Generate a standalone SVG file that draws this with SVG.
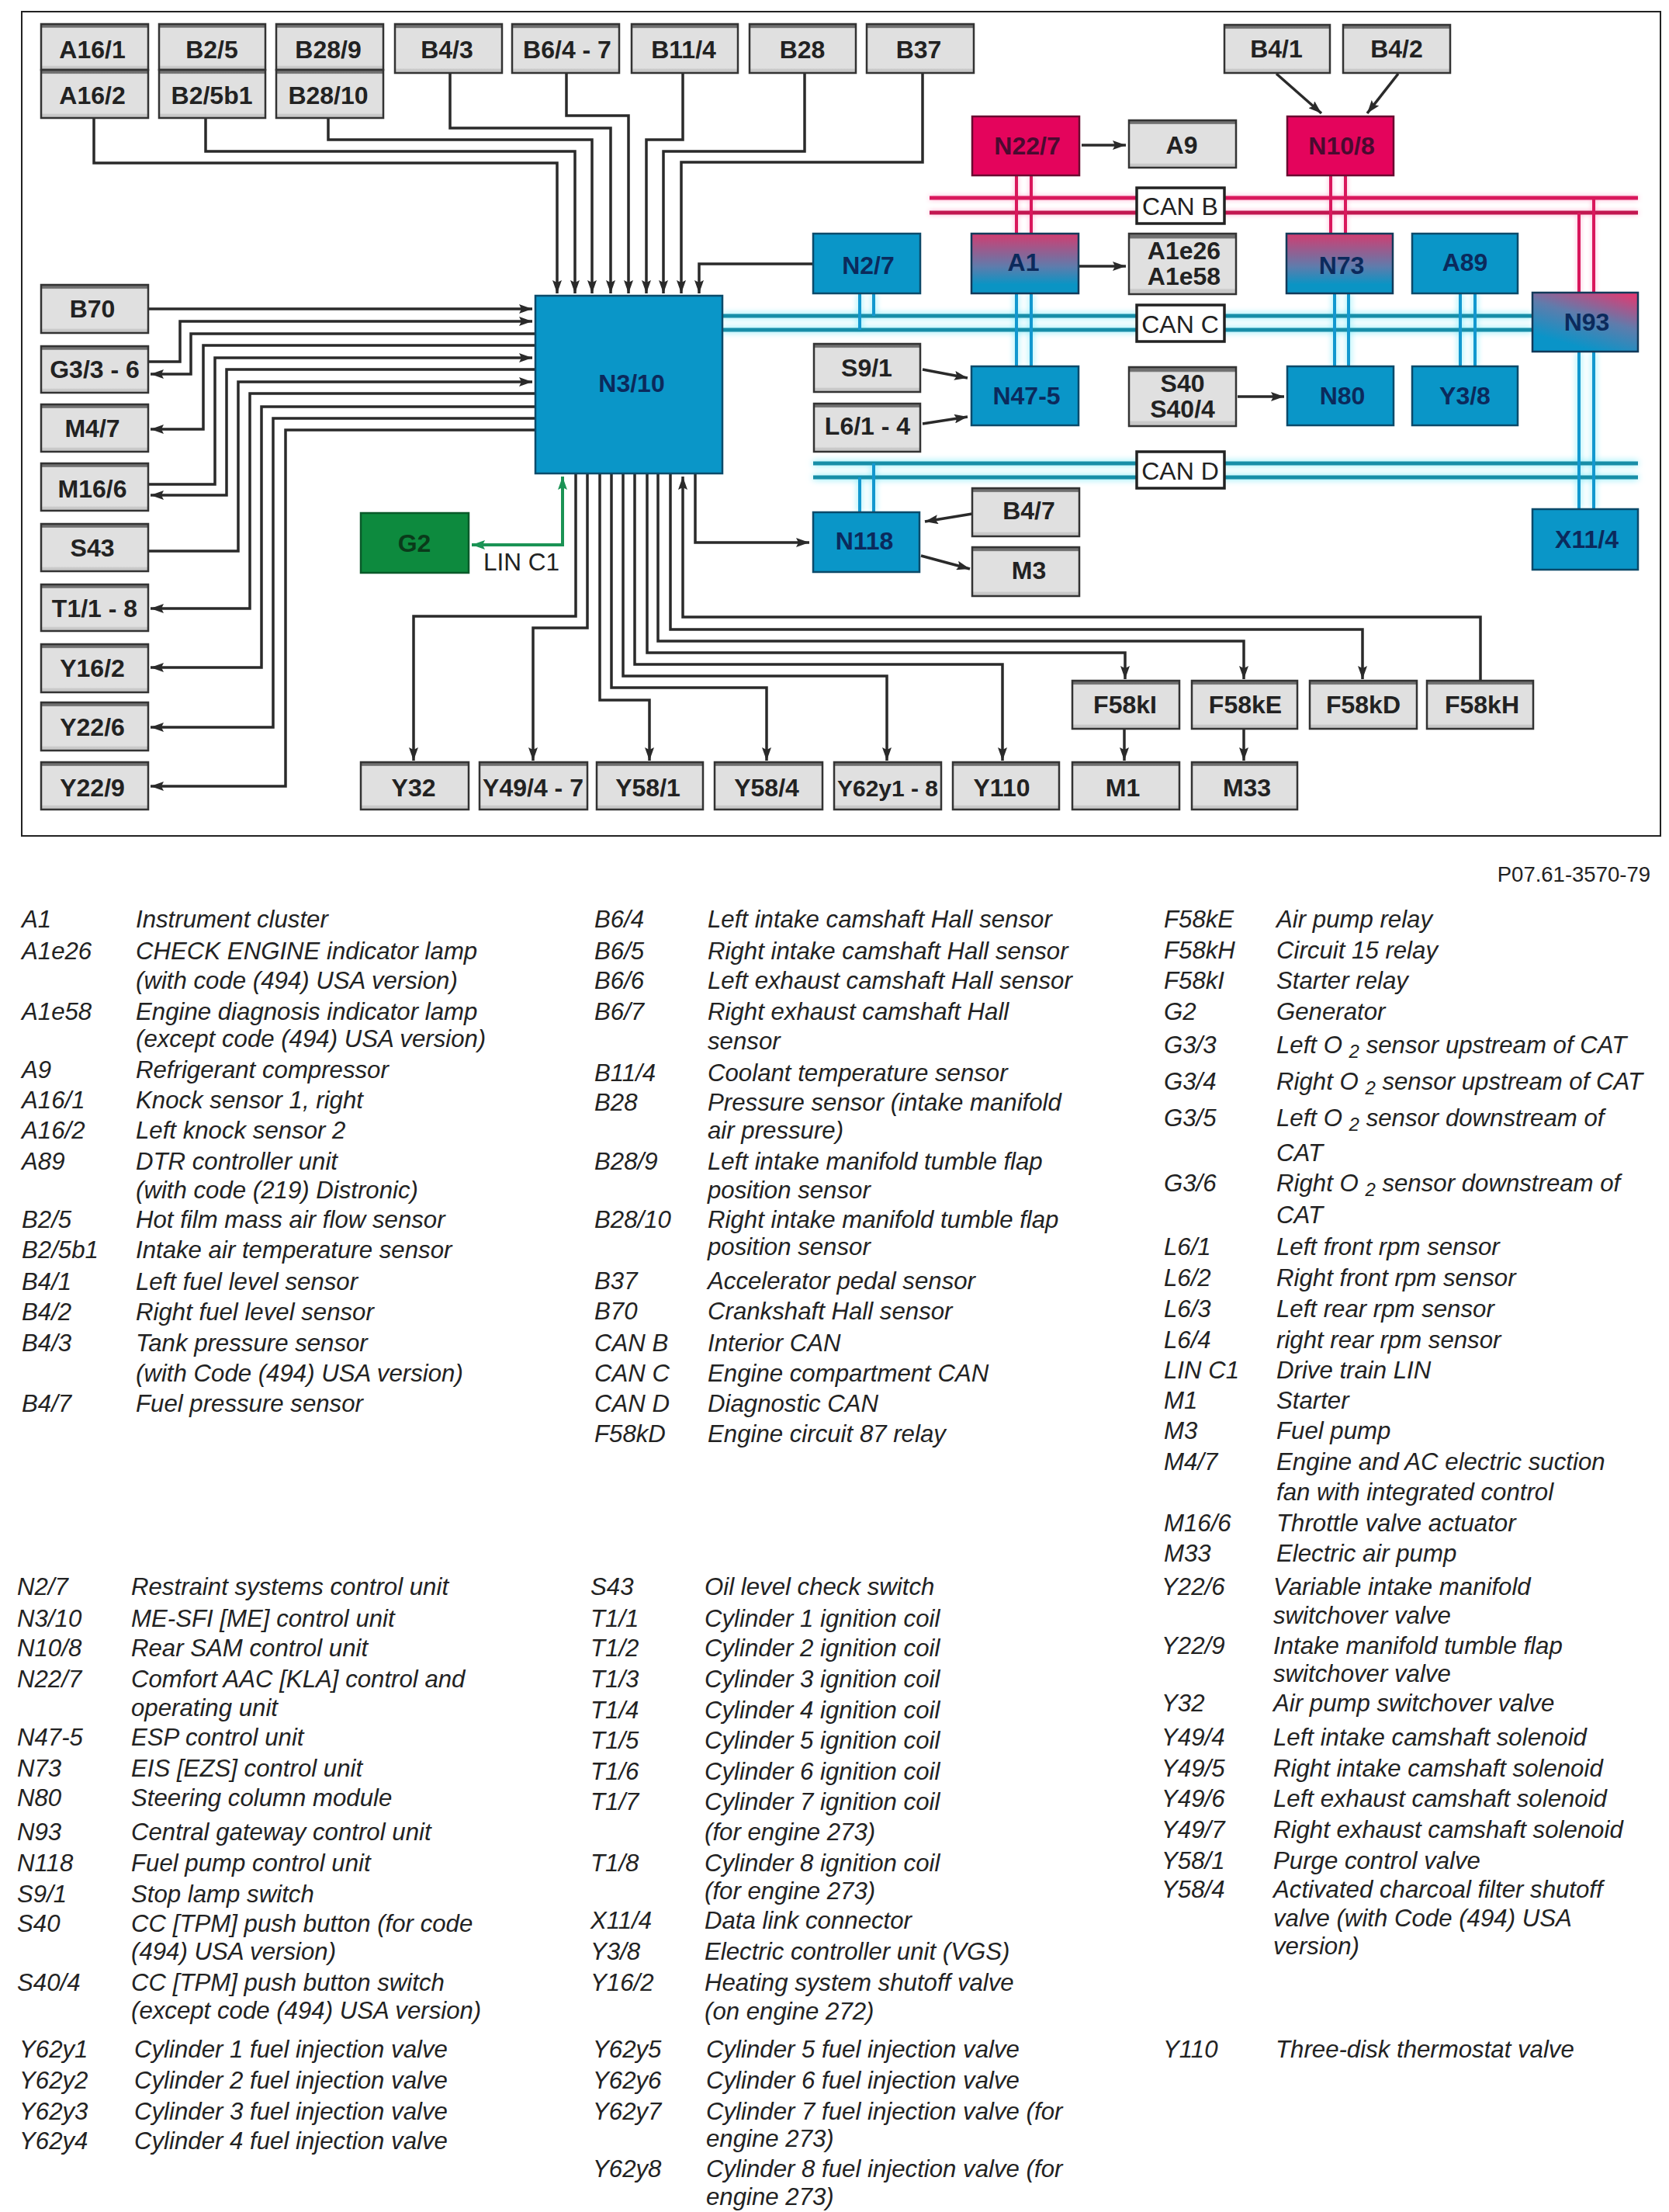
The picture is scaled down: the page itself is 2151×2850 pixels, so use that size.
<svg xmlns="http://www.w3.org/2000/svg" width="2151" height="2850" viewBox="0 0 2151 2850">
<style>
text{font-family:"Liberation Sans",Arial,sans-serif}
.g{fill:url(#gr);stroke:#333;stroke-width:2.5}
.b{fill:#0a96c8;stroke:#0b4a6a;stroke-width:2.5}
.p{fill:#e4045c;stroke:#6a0a30;stroke-width:2.5}
.m{fill:url(#mix);stroke:#123a5a;stroke-width:2.5}
.c{fill:#fff;stroke:#222;stroke-width:3.5}
.t{font-size:32px;font-weight:bold;text-anchor:middle;fill:#222}
.tb{font-size:32px;font-weight:bold;text-anchor:middle;fill:#0b2a5c}
.tp{font-size:32px;font-weight:bold;text-anchor:middle;fill:#4a0a30}
.tc{font-size:32px;text-anchor:middle;fill:#222}
.k path,.k line{fill:none;stroke:#2a2a2a;stroke-width:3.5}
.k .ar{marker-end:url(#a)}
.lin{fill:none;stroke:#1b9355;stroke-width:4;marker-start:url(#ag);marker-end:url(#ag)}
.bp line{stroke:#d9175c;stroke-width:5}
.bpv line{stroke:#d9175c;stroke-width:4}
.bb line{stroke:#178ea8;stroke-width:5}
.bbv line{stroke:#1298cf;stroke-width:4}
.busp{filter:drop-shadow(0 0 3px #ffb0d0)}
.busb{filter:drop-shadow(0 0 4px #70e8f8)}
.leg text{font-size:31.2px;font-style:italic;fill:#222}
</style>
<defs>
<linearGradient id="gr" x1="0" y1="0" x2="0" y2="1"><stop offset="0" stop-color="#707070"/><stop offset=".07" stop-color="#707070"/><stop offset=".09" stop-color="#e0e0e0"/><stop offset=".9" stop-color="#e0e0e0"/><stop offset=".93" stop-color="#c8c8c8"/><stop offset="1" stop-color="#c8c8c8"/></linearGradient>
<linearGradient id="mix" x1="0" y1="0" x2="0" y2="1"><stop offset="0" stop-color="#d23c70"/><stop offset=".55" stop-color="#5f7cac"/><stop offset=".85" stop-color="#0a94c4"/><stop offset="1" stop-color="#0a94c4"/></linearGradient>
<linearGradient id="mix2" x1=".85" y1="0" x2=".35" y2="1"><stop offset="0" stop-color="#dc3c74"/><stop offset=".45" stop-color="#5f7cac"/><stop offset=".9" stop-color="#0a94c8"/></linearGradient>
<marker id="a" markerUnits="userSpaceOnUse" markerWidth="18" markerHeight="12" refX="17" refY="6" orient="auto-start-reverse"><path d="M0 0L17 6L0 12L3 6z" fill="#2a2a2a"/></marker>
<marker id="ag" markerUnits="userSpaceOnUse" markerWidth="18" markerHeight="12" refX="17" refY="6" orient="auto-start-reverse"><path d="M0 0L17 6L0 12L3 6z" fill="#1b9355"/></marker>
</defs>
<rect x="0" y="0" width="2151" height="2850" fill="#fff"/>
<rect id="frame" x="28" y="15" width="2112" height="1062" fill="none" stroke="#222" stroke-width="2"/>

<g id="connectors">
<g class="busp">
<g class="bp"><line x1="1198" y1="255" x2="2111" y2="255"/><line x1="1198" y1="274" x2="2111" y2="274" style="stroke:#c21650"/></g>
<g class="bpv"><line x1="1310" y1="226" x2="1310" y2="301"/><line x1="1329" y1="226" x2="1329" y2="301"/><line x1="1715" y1="226" x2="1715" y2="301"/><line x1="1734" y1="226" x2="1734" y2="301"/><line x1="2035" y1="274" x2="2035" y2="377"/><line x1="2054" y1="255" x2="2054" y2="377"/></g>
</g>
<g class="busb">
<g class="bb"><line x1="931" y1="407" x2="1975" y2="407"/><line x1="931" y1="425" x2="1975" y2="425"/><line x1="1048" y1="597" x2="2111" y2="597"/><line x1="1048" y1="615" x2="2111" y2="615"/></g>
<g class="bbv"><line x1="1108" y1="378" x2="1108" y2="425"/><line x1="1126" y1="378" x2="1126" y2="407"/><line x1="1310" y1="378" x2="1310" y2="472"/><line x1="1329" y1="378" x2="1329" y2="472"/><line x1="1720" y1="378" x2="1720" y2="472"/><line x1="1738" y1="378" x2="1738" y2="472"/><line x1="1882" y1="378" x2="1882" y2="472"/><line x1="1901" y1="378" x2="1901" y2="472"/><line x1="2035" y1="453" x2="2035" y2="656"/><line x1="2054" y1="453" x2="2054" y2="656"/><line x1="1108" y1="615" x2="1108" y2="660"/><line x1="1126" y1="597" x2="1126" y2="660"/></g>
</g>
<g class="k">
<path class="ar" d="M121 152V210H718V378"/>
<path class="ar" d="M265 152V195H741V378"/>
<path class="ar" d="M423 152V180H763V378"/>
<path class="ar" d="M580 94V165H787V378"/>
<path class="ar" d="M730 94V149H810V378"/>
<path class="ar" d="M880 94V180H833V378"/>
<path class="ar" d="M1037 94V195H855V378"/>
<path class="ar" d="M1189 94V209H878V378"/>
<path class="ar" d="M1048 340H901V378"/>
<path class="ar" d="M191 398H686"/>
<path class="ar" d="M191 466H232V414H686"/>
<path class="ar" d="M690 430H246V482H194"/>
<path class="ar" d="M690 445H262V553H194"/>
<path class="ar" d="M191 624H277V461H686"/>
<path class="ar" d="M690 476H292V638H194"/>
<path class="ar" d="M191 710H307V492H686"/>
<path class="ar" d="M690 507H322V784H194"/>
<path class="ar" d="M690 524H337V860H194"/>
<path class="ar" d="M690 539H352V937H194"/>
<path class="ar" d="M690 554H368V1013H194"/>
<path class="ar" d="M742 610V794H533V980"/>
<path class="ar" d="M757 610V809H687V980"/>
<path class="ar" d="M773 610V902H837V980"/>
<path class="ar" d="M788 610V886H988V980"/>
<path class="ar" d="M803 610V871H1143V980"/>
<path class="ar" d="M818 610V856H1292V980"/>
<path class="ar" d="M834 610V841H1450V875"/>
<path class="ar" d="M848 610V826H1603V875"/>
<path class="ar" d="M864 610V811H1756V875"/>
<path class="ar" d="M1908 877V795H880V614"/>
<path class="ar" d="M896 610V699H1043"/>
<path class="ar" d="M1449 939V980"/>
<path class="ar" d="M1603 939V980"/>
<path class="ar" d="M1394 187H1451"/>
<path class="ar" d="M1391 343H1451"/>
<path class="ar" d="M1645 95L1703 146"/>
<path class="ar" d="M1802 95L1762 146"/>
<path class="ar" d="M1189 476L1247 487"/>
<path class="ar" d="M1189 546L1247 537"/>
<path class="ar" d="M1595 511H1655"/>
<path class="ar" d="M1253 662L1192 672"/>
<path class="ar" d="M1187 716L1250 733"/>
</g>
<path class="lin" d="M725 614V702H608"/>
</g>

<g id="n-A16-1"><rect class="g" x="53" y="31" width="138" height="59"/><text class="t" x="119" y="75">A16/1</text></g>
<g id="n-A16-2"><rect class="g" x="53" y="90" width="138" height="62"/><text class="t" x="119" y="134">A16/2</text></g>
<g id="n-B2-5"><rect class="g" x="205" y="31" width="137" height="59"/><text class="t" x="273" y="75">B2/5</text></g>
<g id="n-B2-5b1"><rect class="g" x="205" y="90" width="137" height="62"/><text class="t" x="273" y="134">B2/5b1</text></g>
<g id="n-B28-9"><rect class="g" x="356" y="31" width="138" height="59"/><text class="t" x="423" y="75">B28/9</text></g>
<g id="n-B28-10"><rect class="g" x="356" y="90" width="138" height="62"/><text class="t" x="423" y="134">B28/10</text></g>
<g id="n-B4-3"><rect class="g" x="509" y="31" width="138" height="63"/><text class="t" x="576" y="75">B4/3</text></g>
<g id="n-B6-4-7"><rect class="g" x="660" y="31" width="138" height="63"/><text class="t" x="731" y="75">B6/4 - 7</text></g>
<g id="n-B11-4"><rect class="g" x="814" y="31" width="137" height="63"/><text class="t" x="881" y="75">B11/4</text></g>
<g id="n-B28"><rect class="g" x="966" y="31" width="137" height="63"/><text class="t" x="1034" y="75">B28</text></g>
<g id="n-B37"><rect class="g" x="1117" y="31" width="138" height="63"/><text class="t" x="1184" y="75">B37</text></g>
<g id="n-B4-1"><rect class="g" x="1578" y="32" width="136" height="62"/><text class="t" x="1645" y="74">B4/1</text></g>
<g id="n-B4-2"><rect class="g" x="1731" y="32" width="138" height="62"/><text class="t" x="1800" y="74">B4/2</text></g>
<g id="n-B70"><rect class="g" x="53" y="367" width="138" height="62"/><text class="t" x="119" y="409">B70</text></g>
<g id="n-G3"><rect class="g" x="53" y="446" width="138" height="60"/><text class="t" x="122" y="487">G3/3 - 6</text></g>
<g id="n-M4-7"><rect class="g" x="53" y="521" width="138" height="61"/><text class="t" x="119" y="563">M4/7</text></g>
<g id="n-M16-6"><rect class="g" x="53" y="597" width="138" height="61"/><text class="t" x="119" y="641">M16/6</text></g>
<g id="n-S43"><rect class="g" x="53" y="675" width="138" height="61"/><text class="t" x="119" y="717">S43</text></g>
<g id="n-T1"><rect class="g" x="53" y="753" width="138" height="60"/><text class="t" x="122" y="795">T1/1 - 8</text></g>
<g id="n-Y16-2"><rect class="g" x="53" y="830" width="138" height="62"/><text class="t" x="119" y="872">Y16/2</text></g>
<g id="n-Y22-6"><rect class="g" x="53" y="905" width="138" height="62"/><text class="t" x="119" y="948">Y22/6</text></g>
<g id="n-Y22-9"><rect class="g" x="53" y="982" width="138" height="61"/><text class="t" x="119" y="1026">Y22/9</text></g>

<g id="n-N3-10"><rect class="b" x="690" y="381" width="241" height="229"/><text class="tb" x="814" y="505">N3/10</text></g>
<g id="n-G2"><rect x="465" y="661" width="139" height="77" fill="#0d8a3e" stroke="#0a5a2a" stroke-width="2.5"/><text class="t" x="534" y="711" style="fill:#0a3a1a">G2</text></g>
<g id="lbl-LIN"><text x="623" y="735" font-size="31.5" fill="#222">LIN C1</text></g>

<g id="n-Y32"><rect class="g" x="465" y="982" width="139" height="61"/><text class="t" x="533" y="1026">Y32</text></g>
<g id="n-Y49"><rect class="g" x="618" y="982" width="139" height="61"/><text class="t" x="687" y="1026">Y49/4 - 7</text></g>
<g id="n-Y58-1"><rect class="g" x="769" y="982" width="137" height="61"/><text class="t" x="835" y="1026">Y58/1</text></g>
<g id="n-Y58-4"><rect class="g" x="921" y="982" width="139" height="61"/><text class="t" x="988" y="1026">Y58/4</text></g>
<g id="n-Y62"><rect class="g" x="1075" y="982" width="138" height="61"/><text class="t" x="1144" y="1026" style="font-size:30px">Y62y1 - 8</text></g>
<g id="n-Y110"><rect class="g" x="1228" y="982" width="137" height="61"/><text class="t" x="1291" y="1026">Y110</text></g>
<g id="n-M1"><rect class="g" x="1382" y="982" width="138" height="61"/><text class="t" x="1447" y="1026">M1</text></g>
<g id="n-M33"><rect class="g" x="1536" y="982" width="136" height="61"/><text class="t" x="1607" y="1026">M33</text></g>
<g id="n-F58kI"><rect class="g" x="1382" y="877" width="138" height="62"/><text class="t" x="1450" y="919">F58kI</text></g>
<g id="n-F58kE"><rect class="g" x="1536" y="877" width="136" height="62"/><text class="t" x="1605" y="919">F58kE</text></g>
<g id="n-F58kD"><rect class="g" x="1688" y="877" width="138" height="62"/><text class="t" x="1757" y="919">F58kD</text></g>
<g id="n-F58kH"><rect class="g" x="1839" y="877" width="137" height="62"/><text class="t" x="1910" y="919">F58kH</text></g>

<g id="n-N22-7"><rect class="p" x="1253" y="150" width="138" height="76"/><text class="tp" x="1324" y="199">N22/7</text></g>
<g id="n-A9"><rect class="g" x="1455" y="155" width="138" height="61"/><text class="t" x="1523" y="198">A9</text></g>
<g id="n-N10-8"><rect class="p" x="1659" y="150" width="137" height="76"/><text class="tp" x="1729" y="199">N10/8</text></g>
<g id="n-N2-7"><rect class="b" x="1048" y="301" width="138" height="77"/><text class="tb" x="1119" y="353">N2/7</text></g>
<g id="n-A1"><rect class="m" x="1252" y="301" width="138" height="77"/><text class="tb" x="1319" y="349">A1</text></g>
<g id="n-A1e"><rect class="g" x="1455" y="301" width="138" height="78"/><text class="t" x="1526" y="334">A1e26</text><text class="t" x="1526" y="367">A1e58</text></g>
<g id="n-N73"><rect class="m" x="1658" y="301" width="137" height="77"/><text class="tb" x="1729" y="353">N73</text></g>
<g id="n-A89"><rect class="b" x="1820" y="301" width="136" height="77"/><text class="tb" x="1888" y="349">A89</text></g>
<g id="n-N93"><rect x="1975" y="377" width="136" height="76" fill="url(#mix2)" stroke="#123a5a" stroke-width="2.5"/><text class="tb" x="2045" y="426">N93</text></g>
<g id="n-S9-1"><rect class="g" x="1049" y="443" width="137" height="62"/><text class="t" x="1117" y="485">S9/1</text></g>
<g id="n-L6"><rect class="g" x="1049" y="520" width="137" height="62"/><text class="t" x="1118" y="560">L6/1 - 4</text></g>
<g id="n-N47-5"><rect class="b" x="1252" y="472" width="138" height="76"/><text class="tb" x="1323" y="521">N47-5</text></g>
<g id="n-S40"><rect class="g" x="1455" y="473" width="138" height="76"/><text class="t" x="1524" y="505">S40</text><text class="t" x="1524" y="538">S40/4</text></g>
<g id="n-N80"><rect class="b" x="1659" y="472" width="137" height="76"/><text class="tb" x="1730" y="521">N80</text></g>
<g id="n-Y3-8"><rect class="b" x="1820" y="472" width="136" height="76"/><text class="tb" x="1888" y="521">Y3/8</text></g>
<g id="n-N118"><rect class="b" x="1048" y="660" width="137" height="77"/><text class="tb" x="1114" y="708">N118</text></g>
<g id="n-B4-7"><rect class="g" x="1253" y="629" width="138" height="62"/><text class="t" x="1326" y="669">B4/7</text></g>
<g id="n-M3"><rect class="g" x="1253" y="705" width="138" height="63"/><text class="t" x="1326" y="746">M3</text></g>
<g id="n-X11-4"><rect class="b" x="1975" y="656" width="136" height="78"/><text class="tb" x="2045" y="706">X11/4</text></g>
<g id="n-CANB"><rect class="c" x="1465" y="242" width="113" height="46"/><text class="tc" x="1521" y="277">CAN B</text></g>
<g id="n-CANC"><rect class="c" x="1465" y="393" width="113" height="47"/><text class="tc" x="1521" y="429">CAN C</text></g>
<g id="n-CAND"><rect class="c" x="1465" y="582" width="113" height="47"/><text class="tc" x="1521" y="618">CAN D</text></g>

<text id="ref" x="2127" y="1136" font-size="27.5" text-anchor="end" fill="#222">P07.61-3570-79</text>

<g class="leg" id="legend">
<text x="28" y="1195">A1</text><text x="175" y="1195">Instrument cluster</text>
<text x="28" y="1236">A1e26</text><text x="175" y="1236">CHECK ENGINE indicator lamp</text>
<text x="175" y="1274">(with code (494) USA version)</text>
<text x="28" y="1314">A1e58</text><text x="175" y="1314">Engine diagnosis indicator lamp</text>
<text x="175" y="1349">(except code (494) USA version)</text>
<text x="28" y="1389">A9</text><text x="175" y="1389">Refrigerant compressor</text>
<text x="28" y="1428">A16/1</text><text x="175" y="1428">Knock sensor 1, right</text>
<text x="28" y="1467">A16/2</text><text x="175" y="1467">Left knock sensor 2</text>
<text x="28" y="1507">A89</text><text x="175" y="1507">DTR controller unit</text>
<text x="175" y="1544">(with code (219) Distronic)</text>
<text x="28" y="1582">B2/5</text><text x="175" y="1582">Hot film mass air flow sensor</text>
<text x="28" y="1621">B2/5b1</text><text x="175" y="1621">Intake air temperature sensor</text>
<text x="28" y="1662">B4/1</text><text x="175" y="1662">Left fuel level sensor</text>
<text x="28" y="1701">B4/2</text><text x="175" y="1701">Right fuel level sensor</text>
<text x="28" y="1741">B4/3</text><text x="175" y="1741">Tank pressure sensor</text>
<text x="175" y="1780">(with Code (494) USA version)</text>
<text x="28" y="1819">B4/7</text><text x="175" y="1819">Fuel pressure sensor</text>

<text x="766" y="1195">B6/4</text><text x="912" y="1195">Left intake camshaft Hall sensor</text>
<text x="766" y="1236">B6/5</text><text x="912" y="1236">Right intake camshaft Hall sensor</text>
<text x="766" y="1274">B6/6</text><text x="912" y="1274">Left exhaust camshaft Hall sensor</text>
<text x="766" y="1314">B6/7</text><text x="912" y="1314">Right exhaust camshaft Hall</text>
<text x="912" y="1352">sensor</text>
<text x="766" y="1393">B11/4</text><text x="912" y="1393">Coolant temperature sensor</text>
<text x="766" y="1431">B28</text><text x="912" y="1431">Pressure sensor (intake manifold</text>
<text x="912" y="1467">air pressure)</text>
<text x="766" y="1507">B28/9</text><text x="912" y="1507">Left intake manifold tumble flap</text>
<text x="912" y="1544">position sensor</text>
<text x="766" y="1582">B28/10</text><text x="912" y="1582">Right intake manifold tumble flap</text>
<text x="912" y="1617">position sensor</text>
<text x="766" y="1661">B37</text><text x="912" y="1661">Accelerator pedal sensor</text>
<text x="766" y="1700">B70</text><text x="912" y="1700">Crankshaft Hall sensor</text>
<text x="766" y="1741">CAN B</text><text x="912" y="1741">Interior CAN</text>
<text x="766" y="1780">CAN C</text><text x="912" y="1780">Engine compartment CAN</text>
<text x="766" y="1819">CAN D</text><text x="912" y="1819">Diagnostic CAN</text>
<text x="766" y="1858">F58kD</text><text x="912" y="1858">Engine circuit 87 relay</text>

<text x="1500" y="1195">F58kE</text><text x="1645" y="1195">Air pump relay</text>
<text x="1500" y="1235">F58kH</text><text x="1645" y="1235">Circuit 15 relay</text>
<text x="1500" y="1274">F58kI</text><text x="1645" y="1274">Starter relay</text>
<text x="1500" y="1314">G2</text><text x="1645" y="1314">Generator</text>
<text x="1500" y="1357">G3/3</text><text x="1645" y="1357">Left O <tspan font-size="24" dy="6">2</tspan><tspan dy="-6"> sensor upstream of CAT</tspan></text>
<text x="1500" y="1404">G3/4</text><text x="1645" y="1404">Right O <tspan font-size="24" dy="6">2</tspan><tspan dy="-6"> sensor upstream of CAT</tspan></text>
<text x="1500" y="1451">G3/5</text><text x="1645" y="1451">Left O <tspan font-size="24" dy="6">2</tspan><tspan dy="-6"> sensor downstream of</tspan></text>
<text x="1645" y="1496">CAT</text>
<text x="1500" y="1535">G3/6</text><text x="1645" y="1535">Right O <tspan font-size="24" dy="6">2</tspan><tspan dy="-6"> sensor downstream of</tspan></text>
<text x="1645" y="1576">CAT</text>
<text x="1500" y="1617">L6/1</text><text x="1645" y="1617">Left front rpm sensor</text>
<text x="1500" y="1657">L6/2</text><text x="1645" y="1657">Right front rpm sensor</text>
<text x="1500" y="1697">L6/3</text><text x="1645" y="1697">Left rear rpm sensor</text>
<text x="1500" y="1737">L6/4</text><text x="1645" y="1737">right rear rpm sensor</text>
<text x="1500" y="1776">LIN C1</text><text x="1645" y="1776">Drive train LIN</text>
<text x="1500" y="1815">M1</text><text x="1645" y="1815">Starter</text>
<text x="1500" y="1854">M3</text><text x="1645" y="1854">Fuel pump</text>
<text x="1500" y="1894">M4/7</text><text x="1645" y="1894">Engine and AC electric suction</text>
<text x="1645" y="1933">fan with integrated control</text>
<text x="1500" y="1973">M16/6</text><text x="1645" y="1973">Throttle valve actuator</text>
<text x="1500" y="2012">M33</text><text x="1645" y="2012">Electric air pump</text>

<text x="22" y="2055">N2/7</text><text x="169" y="2055">Restraint systems control unit</text>
<text x="22" y="2096">N3/10</text><text x="169" y="2096">ME-SFI [ME] control unit</text>
<text x="22" y="2134">N10/8</text><text x="169" y="2134">Rear SAM control unit</text>
<text x="22" y="2174">N22/7</text><text x="169" y="2174">Comfort AAC [KLA] control and</text>
<text x="169" y="2211">operating unit</text>
<text x="22" y="2249">N47-5</text><text x="169" y="2249">ESP control unit</text>
<text x="22" y="2289">N73</text><text x="169" y="2289">EIS [EZS] control unit</text>
<text x="22" y="2327">N80</text><text x="169" y="2327">Steering column module</text>
<text x="22" y="2371">N93</text><text x="169" y="2371">Central gateway control unit</text>
<text x="22" y="2411">N118</text><text x="169" y="2411">Fuel pump control unit</text>
<text x="22" y="2451">S9/1</text><text x="169" y="2451">Stop lamp switch</text>
<text x="22" y="2489">S40</text><text x="169" y="2489">CC [TPM] push button (for code</text>
<text x="169" y="2525">(494) USA version)</text>
<text x="22" y="2565">S40/4</text><text x="169" y="2565">CC [TPM] push button switch</text>
<text x="169" y="2601">(except code (494) USA version)</text>

<text x="761" y="2055">S43</text><text x="908" y="2055">Oil level check switch</text>
<text x="761" y="2096">T1/1</text><text x="908" y="2096">Cylinder 1 ignition coil</text>
<text x="761" y="2134">T1/2</text><text x="908" y="2134">Cylinder 2 ignition coil</text>
<text x="761" y="2174">T1/3</text><text x="908" y="2174">Cylinder 3 ignition coil</text>
<text x="761" y="2214">T1/4</text><text x="908" y="2214">Cylinder 4 ignition coil</text>
<text x="761" y="2253">T1/5</text><text x="908" y="2253">Cylinder 5 ignition coil</text>
<text x="761" y="2293">T1/6</text><text x="908" y="2293">Cylinder 6 ignition coil</text>
<text x="761" y="2332">T1/7</text><text x="908" y="2332">Cylinder 7 ignition coil</text>
<text x="908" y="2371">(for engine 273)</text>
<text x="761" y="2411">T1/8</text><text x="908" y="2411">Cylinder 8 ignition coil</text>
<text x="908" y="2447">(for engine 273)</text>
<text x="761" y="2485">X11/4</text><text x="908" y="2485">Data link connector</text>
<text x="761" y="2525">Y3/8</text><text x="908" y="2525">Electric controller unit (VGS)</text>
<text x="761" y="2565">Y16/2</text><text x="908" y="2565">Heating system shutoff valve</text>
<text x="908" y="2602">(on engine 272)</text>

<text x="1497" y="2055">Y22/6</text><text x="1641" y="2055">Variable intake manifold</text>
<text x="1641" y="2092">switchover valve</text>
<text x="1497" y="2131">Y22/9</text><text x="1641" y="2131">Intake manifold tumble flap</text>
<text x="1641" y="2167">switchover valve</text>
<text x="1497" y="2205">Y32</text><text x="1641" y="2205">Air pump switchover valve</text>
<text x="1497" y="2249">Y49/4</text><text x="1641" y="2249">Left intake camshaft solenoid</text>
<text x="1497" y="2289">Y49/5</text><text x="1641" y="2289">Right intake camshaft solenoid</text>
<text x="1497" y="2328">Y49/6</text><text x="1641" y="2328">Left exhaust camshaft solenoid</text>
<text x="1497" y="2368">Y49/7</text><text x="1641" y="2368">Right exhaust camshaft solenoid</text>
<text x="1497" y="2408">Y58/1</text><text x="1641" y="2408">Purge control valve</text>
<text x="1497" y="2445">Y58/4</text><text x="1641" y="2445">Activated charcoal filter shutoff</text>
<text x="1641" y="2482">valve (with Code (494) USA</text>
<text x="1641" y="2518">version)</text>

<text x="25" y="2651">Y62y1</text><text x="173" y="2651">Cylinder 1 fuel injection valve</text>
<text x="25" y="2691">Y62y2</text><text x="173" y="2691">Cylinder 2 fuel injection valve</text>
<text x="25" y="2731">Y62y3</text><text x="173" y="2731">Cylinder 3 fuel injection valve</text>
<text x="25" y="2769">Y62y4</text><text x="173" y="2769">Cylinder 4 fuel injection valve</text>
<text x="764" y="2651">Y62y5</text><text x="910" y="2651">Cylinder 5 fuel injection valve</text>
<text x="764" y="2691">Y62y6</text><text x="910" y="2691">Cylinder 6 fuel injection valve</text>
<text x="764" y="2731">Y62y7</text><text x="910" y="2731">Cylinder 7 fuel injection valve (for</text>
<text x="910" y="2766">engine 273)</text>
<text x="764" y="2805">Y62y8</text><text x="910" y="2805">Cylinder 8 fuel injection valve (for</text>
<text x="910" y="2841">engine 273)</text>
<text x="1499" y="2651">Y110</text><text x="1644" y="2651">Three-disk thermostat valve</text>
</g>
</svg>
